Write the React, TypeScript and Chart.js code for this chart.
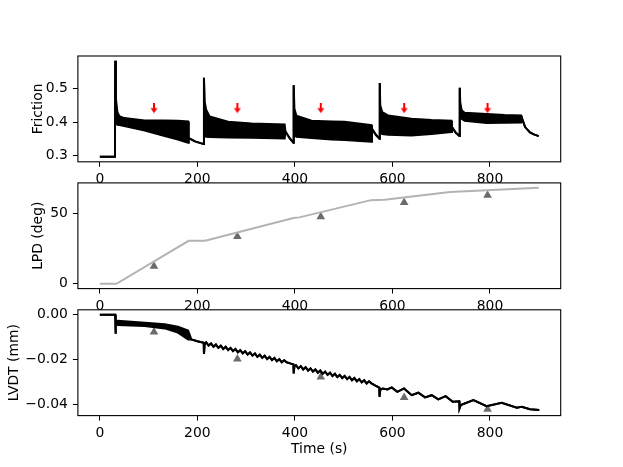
import React, { useEffect, useRef } from 'react';
import { Chart, registerables } from 'chart.js';
Chart.register(...registerables);

const FONT = "'DejaVu Sans', sans-serif";
const FS = 13.9;

// ---------- shared x axis ----------
const xTicks = [0, 200, 400, 600, 800];
const xMin = -45;
const xMax = 945;

// ---------- Friction (envelope of oscillating signal) ----------
const frictionT = [0, 31, 31.5, 33, 36, 40, 50, 92, 133, 160, 181, 182.5, 195, 213, 213.5, 215, 218, 225, 263, 311, 379, 380.5, 390, 397, 397.5, 399, 403, 434, 475, 502, 557, 558, 566, 573.5, 574, 575, 579, 591, 639, 680, 721, 722, 730, 737.5, 738, 739, 742, 748, 793, 830, 864, 866, 872, 882, 890, 900];
const frictionHigh = [0.296, 0.296, 0.584, 0.47, 0.43, 0.418, 0.412, 0.405, 0.405, 0.404, 0.402, 0.352, 0.342, 0.334, 0.533, 0.46, 0.437, 0.417, 0.401, 0.396, 0.393, 0.372, 0.35, 0.338, 0.51, 0.44, 0.419, 0.404, 0.402, 0.401, 0.391, 0.38, 0.362, 0.35, 0.517, 0.45, 0.43, 0.42, 0.41, 0.406, 0.404, 0.385, 0.368, 0.358, 0.503, 0.46, 0.435, 0.428, 0.424, 0.421, 0.42, 0.41, 0.385, 0.369, 0.363, 0.358];
const frictionLow = [0.296, 0.296, 0.584, 0.4, 0.392, 0.391, 0.388, 0.375, 0.358, 0.348, 0.338, 0.352, 0.342, 0.334, 0.533, 0.365, 0.356, 0.355, 0.354, 0.353, 0.351, 0.372, 0.35, 0.338, 0.51, 0.362, 0.356, 0.352, 0.348, 0.346, 0.341, 0.38, 0.362, 0.35, 0.517, 0.375, 0.364, 0.362, 0.36, 0.364, 0.37, 0.385, 0.368, 0.358, 0.503, 0.42, 0.41, 0.404, 0.397, 0.398, 0.399, 0.41, 0.385, 0.369, 0.363, 0.358];
const frictionTicks = [0.3, 0.4, 0.5];
const arrowT = [111, 282, 453, 624, 795];
const arrowY = [0.442, 0.442, 0.442, 0.442, 0.442];

// ---------- LPD ----------
const lpdT = [0, 34, 182, 216, 397, 409, 556, 584, 718, 740, 900];
const lpdV = [0, 0, 30.7, 30.7, 47, 47.4, 59.7, 60, 65.5, 65.8, 68.6];
const lpdTicks = [0, 50];
const markT = [111, 282, 453, 624, 795];
const lpdMarks = [12.5, 33.7, 47.9, 58.0, 63.2];

// ---------- LVDT ----------
const lvdtT = [0, 31.5, 32, 33, 37, 92, 133, 160, 181, 187.7, 200, 213, 213.5, 215,
  218, 223, 228, 233, 238, 243, 248, 253, 258, 263, 268, 273, 278, 283, 288, 293, 298, 303, 308, 313, 318, 323, 328, 333, 338, 343, 348, 353, 358, 363, 368, 373, 378, 383, 390, 397,
  397.5, 399, 402, 407, 412, 417, 422, 427, 432, 437, 442, 447, 452, 457, 462, 467, 472, 477, 482, 487, 492, 497, 502, 507, 512, 517, 522, 527, 532, 537, 542, 547, 552, 557, 565, 573,
  573.5, 575, 580, 589.6, 598.5, 610, 623.7, 639.5, 653, 666.8, 680.5, 694, 709, 723.6, 737,
  737.5, 740, 766, 793, 824, 855, 865, 882, 901];
const lvdtHigh = [0, 0, -0.0085, -0.003, -0.0027, -0.0036, -0.0042, -0.0054, -0.0071, -0.011, -0.0118, -0.0125, -0.0175, -0.013,
  -0.0123, -0.01375, -0.0128, -0.01425, -0.0133, -0.01475, -0.0138, -0.01525, -0.0143, -0.01575, -0.0148, -0.01625, -0.0153, -0.01675, -0.0158, -0.01725, -0.0163, -0.01775, -0.0168, -0.01825, -0.0173, -0.01875, -0.0178, -0.01925, -0.0183, -0.01975, -0.0188, -0.02025, -0.0193, -0.02075, -0.0198, -0.02125, -0.0203, -0.0212, -0.0217, -0.0222,
  -0.0262, -0.0228, -0.0225, -0.02394, -0.02298, -0.02442, -0.02346, -0.0249, -0.02394, -0.02538, -0.02442, -0.02586, -0.0249, -0.02634, -0.02538, -0.02682, -0.02586, -0.0273, -0.02634, -0.02778, -0.02682, -0.02826, -0.0273, -0.02874, -0.02778, -0.02922, -0.02826, -0.0297, -0.02874, -0.03018, -0.02922, -0.03066, -0.0297, -0.0306, -0.0316, -0.0325,
  -0.0366, -0.0335, -0.0329, -0.0333, -0.0324, -0.0344, -0.0329, -0.0359, -0.0348, -0.0369, -0.0359, -0.0378, -0.0363, -0.0388, -0.0386,
  -0.0418, -0.0403, -0.0381, -0.0408, -0.0393, -0.0415, -0.0411, -0.0422, -0.0425];
const lvdtLow = [0, 0, -0.0085, -0.003, -0.0046, -0.005, -0.0061, -0.008, -0.011, -0.011, -0.0118, -0.0125, -0.0175, -0.013,
  -0.0123, -0.01375, -0.0128, -0.01425, -0.0133, -0.01475, -0.0138, -0.01525, -0.0143, -0.01575, -0.0148, -0.01625, -0.0153, -0.01675, -0.0158, -0.01725, -0.0163, -0.01775, -0.0168, -0.01825, -0.0173, -0.01875, -0.0178, -0.01925, -0.0183, -0.01975, -0.0188, -0.02025, -0.0193, -0.02075, -0.0198, -0.02125, -0.0203, -0.0212, -0.0217, -0.0222,
  -0.0262, -0.0228, -0.0225, -0.02394, -0.02298, -0.02442, -0.02346, -0.0249, -0.02394, -0.02538, -0.02442, -0.02586, -0.0249, -0.02634, -0.02538, -0.02682, -0.02586, -0.0273, -0.02634, -0.02778, -0.02682, -0.02826, -0.0273, -0.02874, -0.02778, -0.02922, -0.02826, -0.0297, -0.02874, -0.03018, -0.02922, -0.03066, -0.0297, -0.0306, -0.0316, -0.0325,
  -0.0366, -0.0335, -0.0329, -0.0333, -0.0324, -0.0344, -0.0329, -0.0359, -0.0348, -0.0369, -0.0359, -0.0378, -0.0363, -0.0388, -0.0386,
  -0.0418, -0.0403, -0.0381, -0.0408, -0.0393, -0.0415, -0.0411, -0.0422, -0.0425];
const lvdtTicks = [0, -0.02, -0.04];
const lvdtMarks = [-0.0077, -0.0198, -0.0278, -0.0369, -0.0422];

// ---------- layout (matplotlib-like axes boxes) ----------
const AX_LEFT = 77.9;
const AX_RIGHT = 560.7;
const W = 623;

const framePlugin = {
  id: 'frame',
  afterDatasetsDraw(chart: any) {
    const { ctx, chartArea: a } = chart;
    ctx.save();
    ctx.strokeStyle = '#000';
    ctx.lineWidth = 1.1;
    ctx.strokeRect(a.left, a.top, a.right - a.left, a.bottom - a.top);
    ctx.restore();
  },
};

function makeArrow() {
  const c = document.createElement('canvas');
  c.width = 8;
  c.height = 11;
  const g = c.getContext('2d')!;
  g.fillStyle = '#ff0000';
  g.fillRect(3, 0, 2, 6);
  g.beginPath();
  g.moveTo(0.5, 5.5);
  g.lineTo(7.5, 5.5);
  g.lineTo(4, 10.5);
  g.closePath();
  g.fill();
  return c;
}

const xy = (t: number[], v: number[]) => t.map((x, i) => ({ x, y: v[i] }));

function baseOptions(p: any) {
  const font = { family: FONT, size: FS };
  const grid = { display: true, drawOnChartArea: false, drawTicks: true, tickLength: 5, color: '#000', lineWidth: 1 };
  return {
    animation: false,
    responsive: false,
    maintainAspectRatio: false,
    events: [],
    layout: { padding: { left: 0, right: W - AX_RIGHT, top: p.padTop, bottom: 0 } },
    plugins: { legend: { display: false }, tooltip: { enabled: false } },
    scales: {
      x: {
        type: 'linear',
        min: xMin,
        max: xMax,
        afterBuildTicks: (s: any) => { s.ticks = xTicks.map((v) => ({ value: v })); },
        afterFit: (s: any) => { s.height = p.xH; },
        grid,
        border: { display: false },
        ticks: { font, color: '#000', padding: 4, maxRotation: 0, autoSkip: false, callback: (v: any) => String(v) },
        title: p.xTitle
          ? { display: true, text: p.xTitle, font, color: '#000', padding: { top: 0, bottom: p.xTitlePad } }
          : { display: false },
      },
      y: {
        type: 'linear',
        min: p.yMin,
        max: p.yMax,
        afterBuildTicks: (s: any) => { s.ticks = p.yTicks.map((v: number) => ({ value: v })); },
        afterFit: (s: any) => { s.width = AX_LEFT; },
        grid,
        border: { display: false },
        ticks: { font, color: '#000', padding: 5, autoSkip: false, callback: p.fmt },
        title: { display: true, text: p.yTitle, font, color: '#000', padding: { top: p.yTitlePad, bottom: 0 } },
      },
    },
  };
}

function Panel(props: { top: number; height: number; build: () => any }) {
  const ref = useRef<HTMLCanvasElement>(null);
  useEffect(() => {
    const chart = new Chart(ref.current!, props.build());
    return () => chart.destroy();
  }, []);
  return (
    <canvas
      ref={ref}
      width={W}
      height={props.height}
      style={{ position: 'absolute', left: 0, top: props.top, width: W, height: props.height }}
    />
  );
}

const line = (data: any, color: string, extra: any = {}) => ({
  type: 'line',
  data,
  borderColor: color,
  borderWidth: 2,
  pointRadius: 0,
  tension: 0,
  fill: false,
  ...extra,
});

const tri = (data: any) => ({
  type: 'scatter',
  data,
  pointStyle: 'triangle',
  pointRadius: 5,
  backgroundColor: '#6b6b6b',
  borderWidth: 0,
  showLine: false,
});

export default function App() {
  const arrow = makeArrow();
  return (
    <div style={{ position: 'fixed', left: 0, top: 0, width: W, height: 467, background: '#fff' }}>
      <Panel
        top={36}
        height={156}
        build={() => ({
          type: 'line',
          data: {
            datasets: [
              line(xy(frictionT, frictionHigh), '#000'),
              line(xy(frictionT, frictionLow), '#000', { fill: '-1', backgroundColor: '#000' }),
              { type: 'scatter', data: xy(arrowT, arrowY), pointStyle: arrow, pointRadius: 5, showLine: false },
            ],
          },
          options: baseOptions({
            padTop: 20, xH: 30.2, yMin: 0.281, yMax: 0.598, yTicks: frictionTicks,
            fmt: (v: number) => v.toFixed(1), yTitle: 'Friction', yTitlePad: 30,
          }),
          plugins: [framePlugin],
        })}
      />
      <Panel
        top={162}
        height={157}
        build={() => ({
          type: 'line',
          data: {
            datasets: [
              line(xy(lpdT, lpdV), '#b3b3b3'),
              tri(xy(markT, lpdMarks)),
            ],
          },
          options: baseOptions({
            padTop: 20.9, xH: 30.4, yMin: -3.43, yMax: 72.0, yTicks: lpdTicks,
            fmt: (v: number) => String(v), yTitle: 'LPD (deg)', yTitlePad: 30,
          }),
          plugins: [framePlugin],
        })}
      />
      <Panel
        top={289}
        height={178}
        build={() => ({
          type: 'line',
          data: {
            datasets: [
              line(xy(lvdtT, lvdtHigh), '#000'),
              line(xy(lvdtT, lvdtLow), '#000', { fill: '-1', backgroundColor: '#000' }),
              tri(xy(markT, lvdtMarks)),
            ],
          },
          options: baseOptions({
            padTop: 20.8, xH: 51.4, yMin: -0.0450, yMax: 0.0022, yTicks: lvdtTicks,
            fmt: (v: number) => (v === 0 ? '0.00' : '\u2212' + Math.abs(v).toFixed(2)),
            yTitle: 'LVDT (mm)', yTitlePad: 6, xTitle: 'Time (s)', xTitlePad: 9.7,
          }),
          plugins: [framePlugin],
        })}
      />
    </div>
  );
}
